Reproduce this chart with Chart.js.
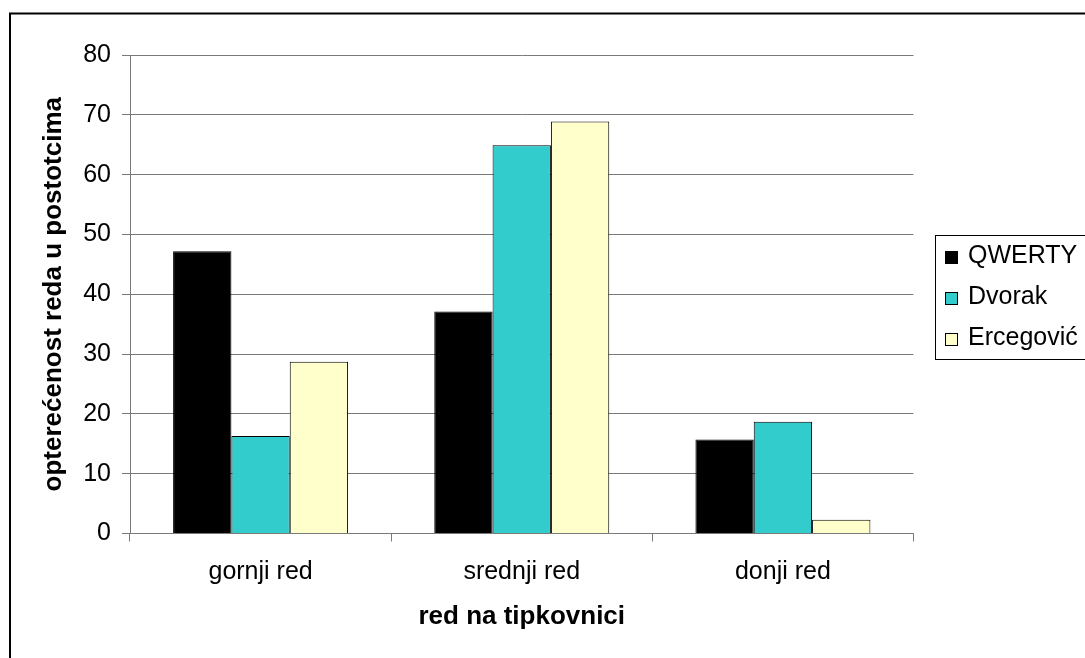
<!DOCTYPE html>
<html>
<head>
<meta charset="utf-8">
<script src="https://cdn.jsdelivr.net/npm/chart.js@4"></script>
<style>
  body { margin: 0; background: #fff; }
  #wrap { width: 1085px; height: 658px; position: relative; }
</style>
</head>
<body>
<div id="wrap"><canvas id="chart"></canvas></div>
<script>
// ====== DATA ======
const categories = ["gornji red", "srednji red", "donji red"];
const seriesNames = ["QWERTY", "Dvorak", "Ercegović"];
const qwertyValues = [47.2, 37.1, 15.7];
const dvorakValues = [16.3, 64.9, 18.7];
const ercegovicValues = [28.7, 68.9, 2.3];
const yMin = 0;
const yMax = 80;
const yStep = 10;
const xTitle = "red na tipkovnici";
const yTitle = "opterećenost reda u postotcima";

// ====== STYLE ======
const seriesColors = ["#000000", "#33CCCC", "#FFFFCC"];
const fontFamily = "'Liberation Sans', Arial, sans-serif";
const fontSize = 25;
const titleSize = 26;
const gridColor = "#7a7a7a";

// frame around the whole chart (cut off at right/bottom like the original)
const framePlugin = {
  id: "frame",
  beforeDraw(chart) {
    const ctx = chart.ctx;
    ctx.save();
    ctx.fillStyle = "#fff";
    ctx.fillRect(0, 0, chart.width, chart.height);
    ctx.strokeStyle = "#000";
    ctx.lineWidth = 2;
    ctx.strokeRect(10, 13.5, chart.width + 20, chart.height + 20);
    ctx.restore();
  }
};

// boxed legend on the right
const boxLegendPlugin = {
  id: "boxLegend",
  afterDraw(chart) {
    const ctx = chart.ctx;
    const boxX = 935.5, boxY = 235.5, boxW = 170, boxH = 124;
    const rowGap = 41;
    const firstRow = 256;
    ctx.save();
    ctx.strokeStyle = "#000";
    ctx.lineWidth = 1;
    ctx.strokeRect(boxX, boxY, boxW, boxH);
    ctx.font = fontSize + "px " + fontFamily;
    ctx.textBaseline = "middle";
    ctx.textAlign = "left";
    chart.data.datasets.forEach((ds, i) => {
      const y = firstRow + i * rowGap;
      ctx.fillStyle = ds.backgroundColor;
      ctx.fillRect(945, y - 5, 13, 13);
      ctx.strokeStyle = "#000";
      ctx.strokeRect(945.5, y - 4.5, 12, 12);
      ctx.fillStyle = "#000";
      ctx.fillText(ds.label, 968, y);
    });
    ctx.restore();
  }
};

const datasetValues = [qwertyValues, dvorakValues, ercegovicValues];

new Chart(document.getElementById("chart"), {
  type: "bar",
  data: {
    labels: categories,
    datasets: seriesNames.map((name, i) => ({
      label: name,
      data: datasetValues[i],
      backgroundColor: seriesColors[i],
      borderColor: "#000",
      borderWidth: 1,
      categoryPercentage: 0.67,
      barPercentage: 1
    }))
  },
  options: {
    responsive: true,
    maintainAspectRatio: false,
    animation: false,
    layout: { padding: { top: 55, right: 171.5, bottom: 14.5, left: 0 } },
    plugins: {
      legend: { display: false },
      tooltip: { enabled: false }
    },
    scales: {
      x: {
        offset: true,
        grid: { display: true, offset: true, drawOnChartArea: false, drawTicks: true, tickLength: 8, color: gridColor },
        border: { color: gridColor },
        ticks: { color: "#000", font: { family: fontFamily, size: fontSize }, padding: 16 },
        title: {
          display: true, text: xTitle, color: "#000",
          font: { family: fontFamily, size: titleSize, weight: "bold" },
          padding: { top: 0, bottom: 11 }
        },
        afterFit: s => { s.height = 110; }
      },
      y: {
        min: yMin,
        max: yMax,
        ticks: { stepSize: yStep, color: "#000", font: { family: fontFamily, size: fontSize }, padding: 11 },
        grid: { color: gridColor, tickLength: 8 },
        border: { color: gridColor },
        title: {
          display: true, text: yTitle, color: "#000",
          font: { family: fontFamily, size: titleSize, weight: "bold" },
          padding: { top: 38, bottom: 0 }
        },
        afterFit: s => { s.width = 130; }
      }
    }
  },
  plugins: [framePlugin, boxLegendPlugin]
});
</script>
</body>
</html>
